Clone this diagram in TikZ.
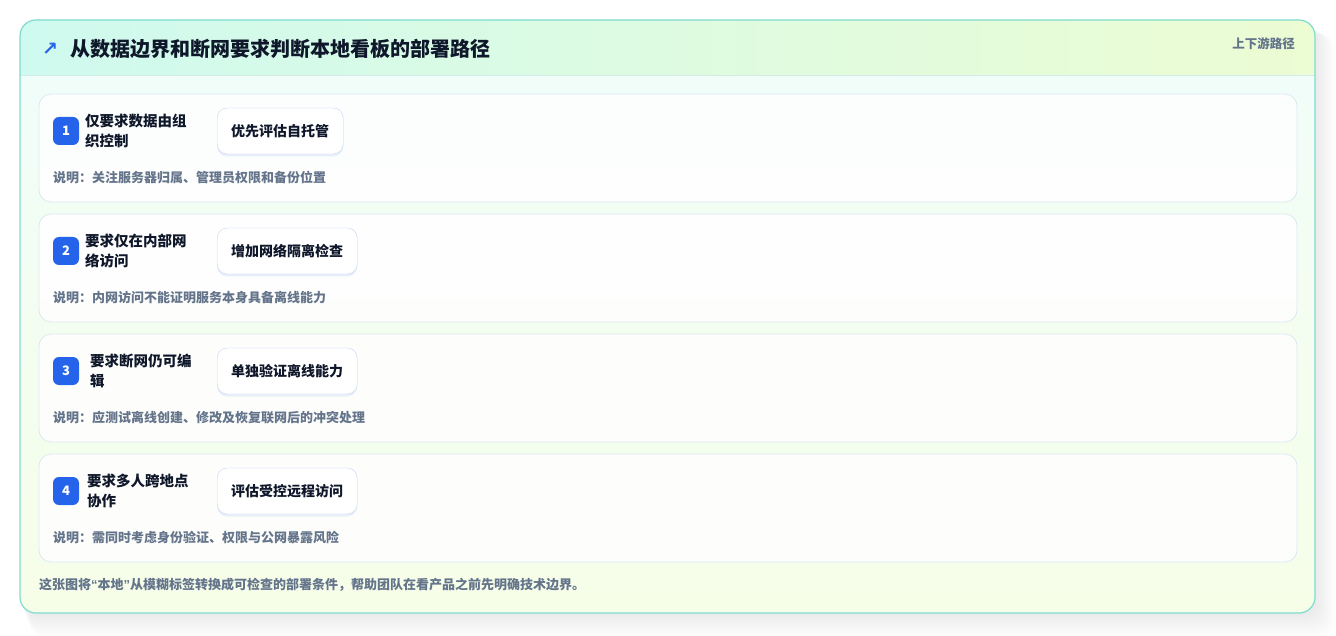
\documentclass[tikz,border=0pt]{standalone}
\usepackage{fontspec}
\setmainfont{Noto Sans CJK SC}
\newfontfamily\symfont{DejaVu Sans}
\newfontfamily\quotefont{Liberation Sans}
\usetikzlibrary{shadows}

\definecolor{inkdark}{HTML}{0F172A}
\definecolor{inkgray}{HTML}{64748B}
\definecolor{badgeblue}{HTML}{2563EB}
\definecolor{cardline}{HTML}{7FDCCF}
\definecolor{rowline}{HTML}{DCE8F3}
\definecolor{actline}{HTML}{C3D5F2}
\definecolor{headleft}{HTML}{CFFAEF}
\definecolor{headright}{HTML}{ECFCD3}
\definecolor{bodytop}{HTML}{F0FDFA}
\definecolor{bodybottom}{HTML}{F6FEE8}
\definecolor{headsep}{HTML}{D3ECE7}

\tikzset{
  rowbox/.style={draw=rowline, fill=white, fill opacity=.85, rounded corners=12pt, line width=.8pt},
  badge/.style={fill=badgeblue, rounded corners=6pt, minimum width=26pt, minimum height=28pt,
    inner sep=0pt, text=white, font=\bfseries\fontsize{13}{13}\selectfont},
  cond/.style={anchor=west, align=left, inner sep=0pt, text=inkdark,
    font=\bfseries\fontsize{14.5}{20}\selectfont},
  act/.style={anchor=west, draw=actline, fill=white, rounded corners=10pt, minimum height=46pt,
    inner xsep=14pt, text=inkdark, font=\bfseries\fontsize{14}{14}\selectfont,
    drop shadow={shadow xshift=0pt, shadow yshift=-2.5pt, fill=actline, opacity=.35}},
  note/.style={anchor=west, inner sep=0pt, text=inkgray, font=\bfseries\fontsize{13}{13}\selectfont},
}

\begin{document}
\begin{tikzpicture}[x=1pt, y=-1pt]
	\useasboundingbox (0,0) rectangle (1336,636);
	\fill[white] (0,0) rectangle (1336,636);
	% soft shadow under the card
	\foreach \k in {1,...,10}
		\fill[black, opacity=.008, rounded corners=16pt] (20+\k,24+\k) rectangle (1315+2*\k,613+2.5*\k);
	\begin{scope}
		\clip[rounded corners=16pt] (20,20) rectangle (1315,613);
		\shade[top color=bodytop, bottom color=bodybottom] (20,20) rectangle (1315,613);
		\shade[left color=headleft, right color=headright] (20,20) rectangle (1315,75);
		\draw[headsep, line width=.8pt] (20,75.5) -- (1315,75.5);
	\end{scope}
	\draw[cardline, line width=1.2pt, rounded corners=16pt] (20,20) rectangle (1315,613);
	% header
	\node[text=badgeblue, inner sep=0pt, font=\symfont\bfseries\fontsize{19}{19}\selectfont] (titleicon) at (50,49) {↗};
	\node[anchor=west, inner sep=0pt, text=inkdark, font=\bfseries\fontsize{20}{20}\selectfont] (title) at (70,49)
		{从数据边界和断网要求判断本地看板的部署路径};
	\node[anchor=east, inner sep=0pt, text=inkgray, font=\bfseries\fontsize{12.5}{12.5}\selectfont] (flowtag) at (1295,44) {上下游路径};
	% rows
	\foreach \i/\cx/\cond/\act/\note in {
		1/85/{仅要求数据由组\\织控制}/优先评估自托管/{说明：关注服务器归属、管理员权限和备份位置},
		2/85/{要求仅在内部网\\络访问}/增加网络隔离检查/{说明：内网访问不能证明服务本身具备离线能力},
		3/90/{要求断网仍可编\\辑}/单独验证离线能力/{说明：应测试离线创建、修改及恢复联网后的冲突处理},
		4/87/{要求多人跨地点\\协作}/评估受控远程访问/{说明：需同时考虑身份验证、权限与公网暴露风险}}{
		\pgfmathsetmacro\ty{94+120*(\i-1)}
		\draw[rowbox] (39,\ty) rectangle (1297,\ty+108);
		\node[badge] (badge\i) at (66,\ty+37) {\i};
		\node[cond] (cond\i) at (\cx,\ty+37) {\cond};
		\node[act] (act\i) at (217,\ty+37) {\act};
		\node[note] (note\i) at (53,\ty+84) {\note};
	}
	% footer
	\node[note] (summary) at (39,585) {这张图将{\quotefont“}本地{\quotefont”}从模糊标签转换成可检查的部署条件，帮助团队在看产品之前先明确技术边界。};
\end{tikzpicture}
\end{document}
